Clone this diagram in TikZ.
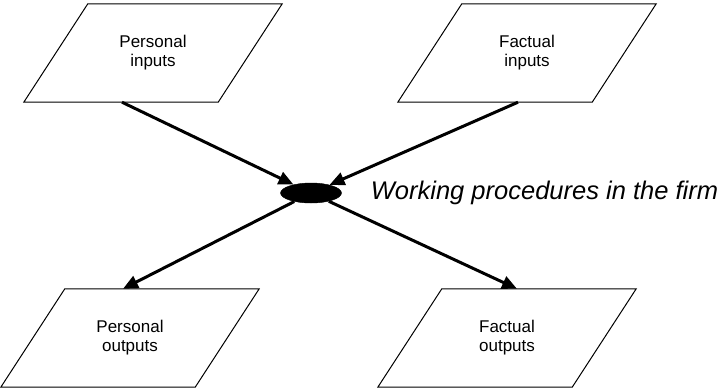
\documentclass[tikz,border=0pt]{standalone}
\usepackage{fontspec}
\setmainfont{Liberation Sans}
\usetikzlibrary{arrows.meta,positioning,shapes.geometric}

\begin{document}
\begin{tikzpicture}[x=1pt, y=-1pt,
		node distance=30pt,
		io/.style={minimum width=194pt, minimum height=98pt, inner sep=0pt, align=center, font=\fontsize{17}{19}\selectfont},
		hub/.style={draw, fill=black, ellipse, minimum width=61pt, minimum height=20pt, inner sep=0pt},
		arr/.style={-{Triangle[length=15pt,width=13pt]}, line width=3pt}]
	\useasboundingbox (0,0) rectangle (728,389);
	\node[io] (pin) at (153,53) {Personal\\inputs};
	\node[io] (fin) at (527,53) {Factual\\inputs};
	\node[hub] (proc) at (311,193) {};
	\node[io] (pout) at (130,338) {Personal\\outputs};
	\node[io] (fout) at (507,338) {Factual\\outputs};
	\node[right=29pt of proc, inner sep=0pt, font=\fontsize{25.5}{30}\selectfont\itshape] (lbl) {Working procedures in the firm};
	
	% slanted data boxes round the text nodes
	\foreach \n in {pin,fin,pout,fout}
		\draw[line width=1pt] ([xshift=-32pt]\n.south west) -- ([xshift=-32pt]\n.south east) -- ([xshift=32pt]\n.north east) -- ([xshift=32pt]\n.north west) -- cycle;
	
	\draw[arr] ([xshift=-31pt]pin.south) -- (proc);
	\draw[arr] ([xshift=-9pt]fin.south) -- (proc);
	\draw[arr] (proc) -- ([xshift=-7pt]pout.north);
	\draw[arr] (proc) -- ([xshift=10pt]fout.north);
\end{tikzpicture}
\end{document}
